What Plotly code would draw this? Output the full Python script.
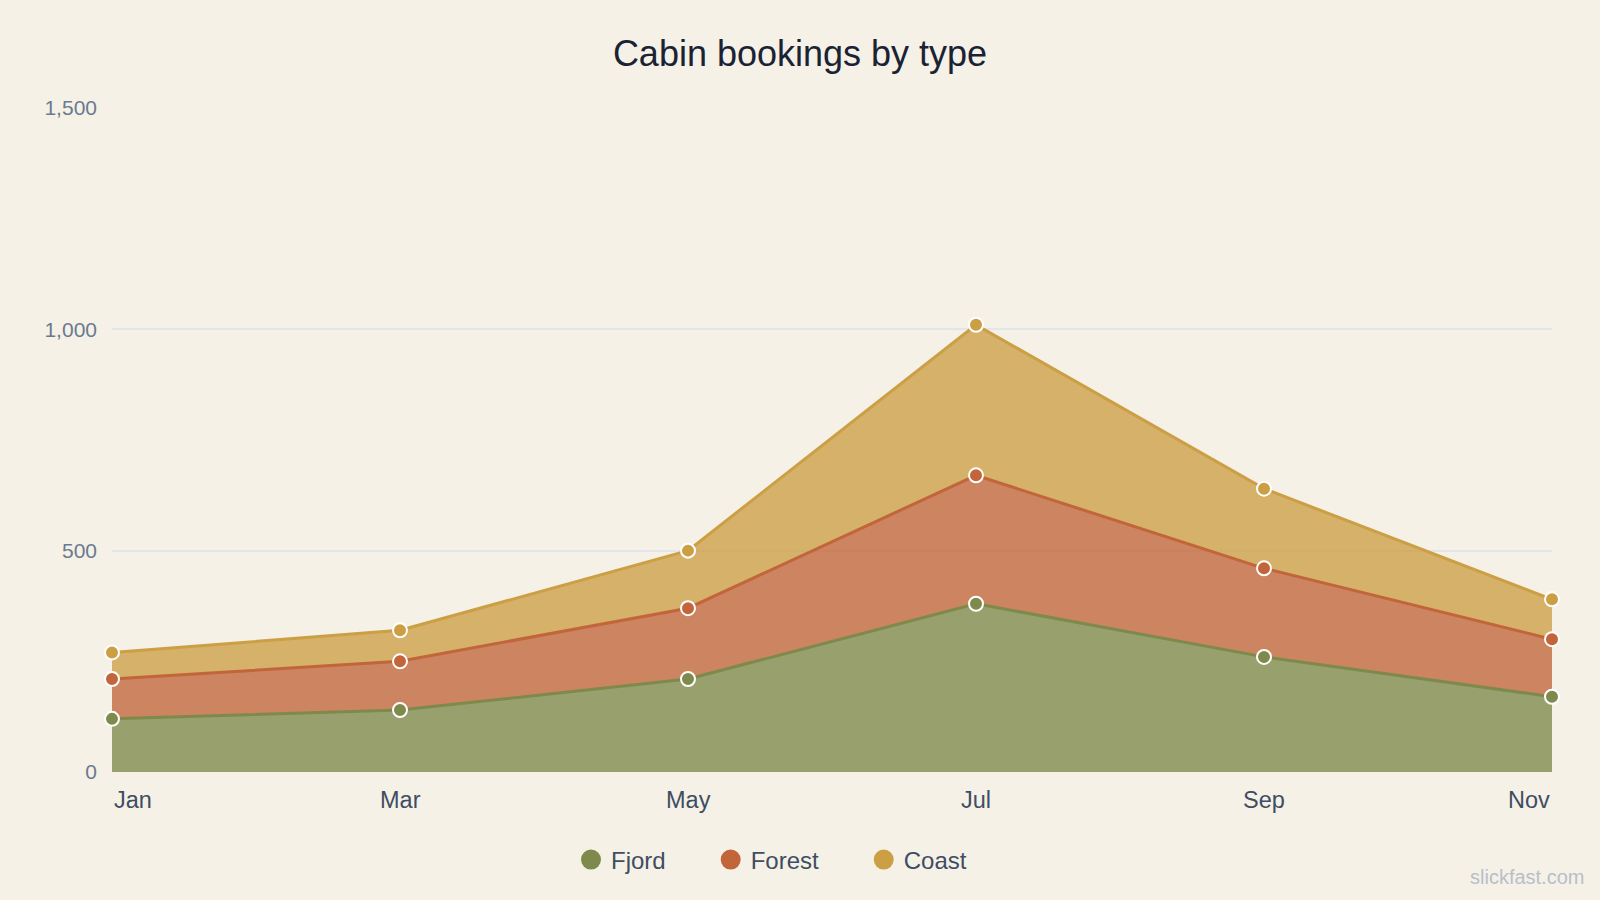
import plotly.graph_objects as go

months = ["Jan", "Mar", "May", "Jul", "Sep", "Nov"]
fjord = [120, 140, 210, 380, 260, 170]
forest = [90, 110, 160, 290, 200, 130]
coast = [60, 70, 130, 340, 180, 90]

series = [
    ("Fjord", fjord, "#7d8a4b", "rgba(125,138,75,0.78)"),
    ("Forest", forest, "#c2653a", "rgba(194,101,58,0.78)"),
    ("Coast", coast, "#cc9f45", "rgba(204,159,69,0.78)"),
]

FONT = "Liberation Sans, Arial, sans-serif"

fig = go.Figure()
for name, vals, col, fillc in series:
    fig.add_trace(go.Scatter(
        x=months, y=vals, name=name, stackgroup="one", mode="lines+markers",
        line=dict(color=col, width=3),
        fillcolor=fillc, cliponaxis=False, showlegend=False,
        marker=dict(size=14, color=col, line=dict(color="white", width=2)),
    ))
# legend entries (circle symbols)
pad = "\u00a0" * 6
for i, (name, vals, col, fillc) in enumerate(series):
    label = name + (pad if i < len(series) - 1 else "")
    fig.add_trace(go.Scatter(
        x=[None], y=[None], name=label, mode="markers",
        marker=dict(size=20, color=col, line=dict(color=col, width=4)), showlegend=True,
    ))

# x tick labels as annotations (first left-aligned, last right-aligned)
for i, m in enumerate(months):
    anchor = "left" if i == 0 else ("right" if i == len(months) - 1 else "center")
    fig.add_annotation(x=m, y=0, xref="x", yref="paper", yshift=-13, yanchor="top",
                       xanchor=anchor, text=m, showarrow=False,
                       font=dict(size=23.5, color="#3f4d63", family=FONT))

fig.add_annotation(x=1, y=0, xref="paper", yref="paper", xanchor="right", yanchor="bottom",
                   text="slickfast.com", showarrow=False, xshift=34, yshift=-118,
                   font=dict(size=20, color="#b8bfc9", family=FONT))

fig.update_layout(
    width=1600, height=900,
    paper_bgcolor="#f5f1e7", plot_bgcolor="#f5f1e7",
    margin=dict(l=112, r=48, t=107, b=128),
    title=dict(text="Cabin bookings by type", x=0.5, xanchor="center", y=0.941, yanchor="middle",
               font=dict(size=36, color="#1a2233", family=FONT)),
    font=dict(family=FONT),
    showlegend=True,
    legend=dict(orientation="h", xref="container", x=571 / 1600, xanchor="left",
                yref="container", y=1 - 860 / 900, yanchor="middle",
                font=dict(size=24, color="#3f4d63"), traceorder="normal"),
    xaxis=dict(type="category", range=[0, len(months) - 1], showgrid=False, showticklabels=False,
               zeroline=False, showline=False),
    yaxis=dict(range=[0, 1502], tickvals=[0, 500, 1000, 1500], ticktext=["0", "500", "1,000", "1,500"],
               gridcolor="#e2e5ec", gridwidth=1.5, zeroline=False, showline=False,
               tickfont=dict(size=21, color="#6b7a90"), ticklabelstandoff=14),
    hovermode=False,
)

fig.write_html("out.html")
